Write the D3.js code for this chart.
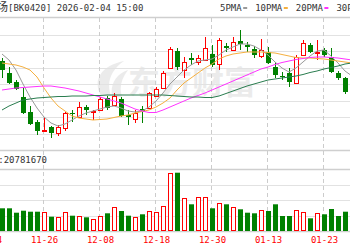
<!DOCTYPE html>
<html>
<head>
<meta charset="utf-8">
<script src="https://cdn.jsdelivr.net/npm/d3@7"></script>
<style>
  html, body { margin: 0; padding: 0; background: #fff; }
  svg { display: block; }
</style>
</head>
<body>
<svg id="chart" width="350" height="250"></svg>
<script>
// trading days, the two lead days are off screen (only their tick label peeks in)
const leadDays = ["11-14", "11-17"];
const dates = ["11-18","11-19","11-20","11-21","11-24","11-25","11-26","11-27","11-28",
  "12-01","12-02","12-03","12-04","12-05","12-08","12-09","12-10","12-11","12-12",
  "12-15","12-16","12-17","12-18","12-19","12-22","12-23","12-24","12-25","12-26",
  "12-29","12-30","12-31","01-05","01-06","01-07","01-08","01-09","01-12","01-13",
  "01-14","01-15","01-16","01-19","01-20","01-21","01-22","01-23","01-26","01-27",
  "01-28","01-29"];

const open  = [1089,1077,1068,1053,1038,1028,1019.5,1023,1017,1022,1037,1033,1043,1037.5,1041,1052,1045,1051,1035,1031,1041,1042,1054,1062,1082,1099,1080,1092,1088,1090,1096,1086,1104,1100,1109,1105,1101,1094,1098,1083,1074,1077,1067,1095,1105,1097.5,1100,1093,1077,1072,1056];
const close = [1080,1067,1061,1037,1026,1019,1020.5,1017,1023,1037,1036,1043,1040,1039,1051.5,1042,1054,1034,1033,1037,1038,1057,1061,1077,1101,1083,1088,1090,1092,1102,1085,1110,1102,1108,1106,1103,1095,1100,1087,1075,1073,1068,1093,1107,1098,1098,1095,1078,1072,1058,1056.5];
const high  = [1092,1083,1070,1062,1044,1030,1032,1024,1025,1038,1040,1048,1045,1040,1053,1054,1057,1053,1040,1040,1044,1058,1063,1079,1103,1102,1093,1097,1095,1113,1105,1112,1107,1113,1120,1108,1104,1111,1103,1088,1078,1082,1095,1110,1107,1110,1102,1102,1079,1073,1057];
const low   = [1072,1066,1060,1036,1025,1015,1019,1012,1014,1019,1028,1033,1035,1030,1040,1040,1044,1033,1025,1027,1027,1041,1053,1061,1081,1080,1072,1085,1085,1089,1083,1080,1098,1099,1100,1098,1092,1092,1086,1072,1070,1063,1066,1094,1097,1090,1093,1077,1070,1056,1056];
const volume = [22700000,22700000,18300000,20300000,19300000,19300000,19300000,14300000,14300000,18700000,
  15300000,15300000,13700000,12000000,15300000,17700000,24300000,20000000,15300000,13700000,
  16700000,20000000,19000000,25300000,57700000,58300000,32700000,26700000,33700000,34300000,
  22700000,27700000,26700000,23700000,21700000,18300000,17700000,21000000,20000000,26700000,
  15000000,15000000,21000000,19300000,12700000,17700000,16700000,22000000,15000000,19300000,17000000];

const ma5  = [1096,1090,1080,1066,1053,1042,1033,1027,1024,1026,1030,1034,1037,1039,1041,1043,1044,1042,1039,1038,1039,1043,1049,1057,1066,1073,1080,1085,1089,1090,1091,1095,1100,1103,1106,1106,1104,1100,1095,1088,1082,1078,1082,1088,1094,1099,1100,1094,1087,1079,1074];
const ma10 = [1087,1086,1085,1083,1080,1073,1062,1052,1044,1039,1034,1032,1031,1030,1030.5,1031,1032.5,1034,1035,1037,1038.5,1040,1043,1047,1052,1060,1067,1072,1077,1082,1086,1091,1094,1096,1097,1098,1098,1098,1097.5,1097,1095.5,1094,1092.5,1092,1092,1091.5,1091,1090,1089,1088,1087];
const ma20 = [1060,1061,1062,1062.5,1063,1063.5,1064,1064,1063,1062,1060.5,1059,1057,1055,1053,1051,1049,1047,1044,1041,1039,1037.5,1037.5,1040,1043,1046,1049,1052,1054.5,1057,1060,1063,1066,1069,1072,1075,1078,1081,1083,1085.5,1087.5,1089,1090.5,1091.5,1092.5,1093,1093,1092.5,1092,1091,1090];
const ma30 = [1040,1044,1047,1050,1051,1052,1052.5,1053,1053.5,1053.5,1054,1054,1054,1054.5,1054.5,1055,1055,1055,1055,1055,1055,1055,1055,1055,1054.5,1054,1053.5,1053,1053,1052.5,1052.5,1054,1056.5,1059,1061.5,1064,1066,1068,1070,1071,1072,1073,1074,1075.5,1077.5,1079,1081,1082.5,1084,1086,1087];

const tickDates = ["11-14","11-26","12-08","12-18","12-30","01-13","01-23"];
const legendNames = ["5PMA","10PMA","20PMA","30PMA"];
const boardName = "航空机场";
const titleText = "[BK0420] 2026-02-04 15:00";
const volLabel = "VOL:20781670";

const RED = "#ff0000", GREEN = "#008000";
const maColors = ["#9a9a9a", "#f5b040", "#ff33ff", "#2a7d4f"];
const mono = "'DejaVu Sans Mono', monospace";

const svg = d3.select("#chart");

const x = d3.scalePoint().domain(leadDays.concat(dates)).range([-12, 352]);
const y = d3.scaleLinear().domain([1000, 1132]).range([150, 18]);
const yv = d3.scaleLinear().domain([0, 62000000]).range([231, 169]);

svg.append("rect").attr("width", 350).attr("height", 250).attr("fill", "#fff");

// watermark
const wm = svg.append("g").attr("fill", "#000").attr("opacity", 0.075);
wm.append("path")
  .attr("d", "M101,96 C93,82 99,66 124,61 C111,70 106,82 111,96 Z M112,97 C110,84 116,74 128,70 C121,79 119,88 122,97 Z");
wm.append("text")
  .attr("x", 128).attr("y", 94)
  .attr("font-family", "'Noto Sans CJK SC'")
  .attr("font-weight", 700)
  .attr("font-size", 32)
  .text("东方财富");

// horizontal grid
const grid = svg.append("g");
grid.selectAll(".pg")
  .data(d3.range(1, 8).map(k => 1000 + k * 16.5))
  .join("line")
  .attr("x1", 0).attr("x2", 350)
  .attr("y1", d => Math.round(y(d)) + 0.5).attr("y2", d => Math.round(y(d)) + 0.5)
  .attr("stroke", "#e2e2e2");
grid.selectAll(".vg")
  .data([15500000, 31000000, 46500000])
  .join("line")
  .attr("x1", 0).attr("x2", 350)
  .attr("y1", d => Math.round(yv(d)) + 0.5).attr("y2", d => Math.round(yv(d)) + 0.5)
  .attr("stroke", "#e2e2e2");
// panel borders
grid.selectAll(".bd")
  .data([17.5, 150.5, 169.5, 231.5])
  .join("line")
  .attr("x1", 0).attr("x2", 350)
  .attr("y1", d => d).attr("y2", d => d)
  .attr("stroke", "#cfcfcf").attr("stroke-width", 1.5);

// vertical dashed lines
grid.selectAll(".vd")
  .data(tickDates)
  .join("line")
  .attr("x1", d => x(d) - 0.5).attr("x2", d => x(d) - 0.5)
  .attr("y1", 18).attr("y2", 231)
  .attr("stroke", "#cccccc")
  .attr("stroke-dasharray", "4,3");

// candles
const idx = d3.range(dates.length);
const up = i => close[i] >= open[i];
const cx = i => Math.round(x(dates[i]));

const cg = svg.append("g");
cg.selectAll(".wick")
  .data(idx)
  .join("line")
  .attr("x1", i => cx(i) + 0.5).attr("x2", i => cx(i) + 0.5)
  .attr("y1", i => y(high[i])).attr("y2", i => y(low[i]))
  .attr("stroke", i => up(i) ? RED : GREEN);

cg.selectAll(".body")
  .data(idx)
  .join("rect")
  .attr("x", i => up(i) ? cx(i) - 1.5 : cx(i) - 2)
  .attr("y", i => {
    const t = y(Math.max(open[i], close[i]));
    return up(i) ? Math.round(t) + 0.5 : t;
  })
  .attr("width", i => up(i) ? 4 : 5)
  .attr("height", i => {
    const h = Math.abs(y(open[i]) - y(close[i]));
    return up(i) ? Math.max(Math.round(h), 0.5) : Math.max(h, 1);
  })
  .attr("fill", i => up(i) ? "#fff" : GREEN)
  .attr("stroke", i => up(i) ? RED : "none");

// moving averages
[ma5, ma10, ma20, ma30].forEach((ma, k) => {
  svg.append("path")
    .datum(idx)
    .attr("fill", "none")
    .attr("stroke", maColors[k])
    .attr("stroke-width", 1)
    .attr("d", d3.line().x(i => x(dates[i])).y(i => y(ma[i])));
});

// volume
svg.append("g").selectAll("rect")
  .data(idx)
  .join("rect")
  .attr("x", i => up(i) ? cx(i) - 1.5 : cx(i) - 2)
  .attr("y", i => up(i) ? Math.round(yv(volume[i])) + 0.5 : yv(volume[i]))
  .attr("width", i => up(i) ? 4 : 5)
  .attr("height", i => up(i) ? Math.round(yv(0) - yv(volume[i])) - 1 : yv(0) - yv(volume[i]))
  .attr("fill", i => up(i) ? "#fff" : GREEN)
  .attr("stroke", i => up(i) ? RED : "none");

// x axis labels
const ax = svg.append("g")
  .attr("transform", "translate(0,237)")
  .call(d3.axisBottom(x).tickValues(tickDates).tickSize(0).tickPadding(0));
ax.select(".domain").remove();
ax.selectAll("text")
  .attr("fill", RED)
  .attr("font-family", mono)
  .attr("font-size", 9);

// title
svg.append("text")
  .attr("x", 8).attr("y", 11)
  .attr("text-anchor", "end")
  .attr("font-family", "'Noto Sans CJK SC'")
  .attr("font-size", 11)
  .attr("fill", "#333")
  .text(boardName);
svg.append("text")
  .attr("x", 8).attr("y", 11)
  .attr("font-family", mono)
  .attr("font-size", 9)
  .attr("fill", "#333")
  .text(titleText);

// legend
let lx = 220;
legendNames.forEach((name, k) => {
  const t = svg.append("text")
    .attr("x", lx).attr("y", 11)
    .attr("font-family", mono)
    .attr("font-size", 9)
    .attr("fill", "#333")
    .text(name);
  const w = t.node().getComputedTextLength();
  svg.append("rect")
    .attr("x", lx + w + 1.5).attr("y", 7)
    .attr("width", 4).attr("height", 2)
    .attr("fill", maColors[k]);
  lx += w + 13.5;
});

// volume label
svg.append("text")
  .attr("x", 47).attr("y", 163)
  .attr("text-anchor", "end")
  .attr("font-family", mono)
  .attr("font-size", 9)
  .attr("fill", "#333")
  .text(volLabel);
</script>
</body>
</html>
